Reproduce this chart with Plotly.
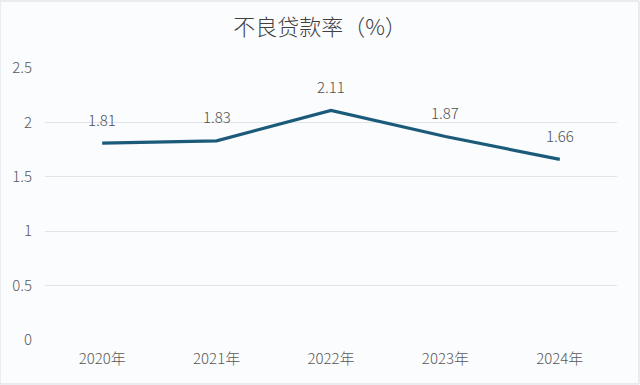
import plotly.graph_objects as go

years = ["2020年", "2021年", "2022年", "2023年", "2024年"]
npl_ratio = [1.81, 1.83, 2.11, 1.87, 1.66]
y_ticks = [0, 0.5, 1, 1.5, 2, 2.5]
y_tick_text = ["0", "0.5", "1", "1.5", "2", "2.5"]

font_family = "Noto Sans CJK SC, Noto Sans, sans-serif"

fig = go.Figure()
fig.add_trace(go.Scatter(
    x=years, y=npl_ratio, mode="lines",
    line=dict(color="#1c5a7a", width=3.2),
    hoverinfo="skip",
))

for x, y in zip(years, npl_ratio):
    fig.add_annotation(x=x, y=y, text=f"{y:.2f}", showarrow=False,
                       yshift=24, font=dict(size=15, color="#505050", family=font_family, weight=300))

fig.update_layout(
    width=640, height=385,
    margin=dict(l=45, r=23, t=68, b=45),
    paper_bgcolor="#fbfcfe",
    plot_bgcolor="#fbfcfe",
    showlegend=False,
    title=dict(text="不良贷款率（%）", x=0.5, xanchor="center", y=0.93, yanchor="middle",
               font=dict(size=22, color="#404040", family=font_family, weight=300)),
    xaxis=dict(type="category", range=[-0.5, 4.5], showgrid=False, zeroline=False,
               showline=False, ticks="", ticklabelstandoff=8,
               tickfont=dict(size=15, color="#595959", family=font_family, weight=300)),
    yaxis=dict(range=[0, 2.5], tickvals=y_ticks, ticktext=y_tick_text,
               showgrid=True, gridcolor="#e2e4e8", gridwidth=1, zeroline=False,
               showline=False, ticks="", ticklabelstandoff=12,
               tickfont=dict(size=15, color="#595959", family=font_family, weight=300)),
    shapes=[dict(type="rect", xref="paper", yref="paper", x0=-45/572, x1=1+22/572,
                 y0=-44/272, y1=1+67/272, line=dict(color="#d9dbe0", width=1),
                 fillcolor="rgba(0,0,0,0)")],
)

fig.write_html("out.html")
